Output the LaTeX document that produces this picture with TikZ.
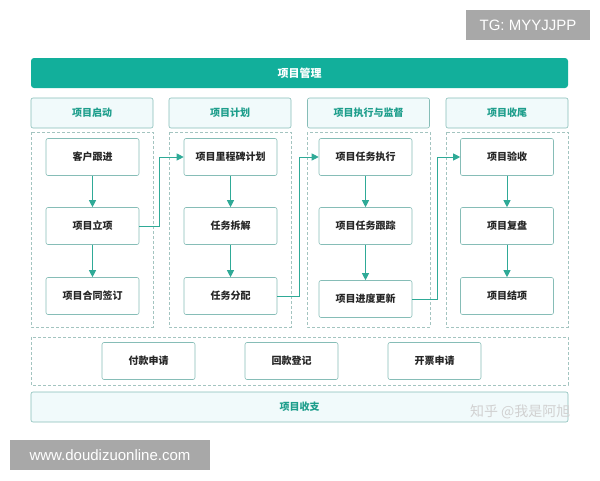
\documentclass[tikz,border=0pt]{standalone}
\usepackage{fontspec}
\setmainfont{Noto Sans CJK SC}
\newfontfamily\latinsans{Liberation Sans}
\usetikzlibrary{arrows.meta,positioning}
\definecolor{tealmain}{HTML}{12AF9B}
\definecolor{tealtext}{HTML}{1E9E8C}
\definecolor{tealline}{HTML}{86BDB7}
\definecolor{tealarrow}{HTML}{2FAA97}
\definecolor{headfill}{HTML}{F1FAFB}
\definecolor{dashline}{HTML}{A3C4C0}
\definecolor{markgray}{HTML}{A8A8A8}

\begin{document}
\begin{tikzpicture}[x=1pt,y=-1pt,
	phase/.style={draw=tealline, fill=headfill, rounded corners=2pt, line width=0.6pt,
		minimum width=122pt, minimum height=30pt, inner sep=0pt,
		font=\fontsize{10}{12}\selectfont\bfseries, text=tealtext},
	task/.style={draw=tealline, fill=white, rounded corners=2pt, line width=0.6pt,
		minimum width=93pt, minimum height=37pt, inner sep=0pt,
		font=\fontsize{10}{12}\selectfont\bfseries, text=black!85},
	group/.style={draw=dashline, dash pattern=on 3pt off 2pt, line width=0.6pt},
	arr/.style={draw=tealarrow, line width=0.8pt, -{Triangle[length=7pt,width=7pt]}},
	stamp/.style={fill=markgray, text=white, inner sep=0pt, font=\latinsans\fontsize{15}{17}\selectfont}]

	\useasboundingbox (0,0) rectangle (600,480);

	% top bar
	\node[fill=tealmain, rounded corners=3pt, minimum width=537pt, minimum height=30pt,
		text=white, font=\fontsize{11}{13}\selectfont\bfseries] (pm) at (299.5,73) {项目管理};

	% phases
	\node[phase] (h1) at (92,113) {项目启动};
	\node[phase] (h2) at (230,113) {项目计划};
	\node[phase] (h3) at (368.5,113) {项目执行与监督};
	\node[phase] (h4) at (507,113) {项目收尾};

	\draw[group] (31,132) rectangle (153,327);
	\draw[group] (169,132) rectangle (291,327);
	\draw[group] (307,132) rectangle (430,327);
	\draw[group] (446,132) rectangle (568,327);

	% column 1
	\node[task] (a1) at (92.5,157) {客户跟进};
	\node[task] (a2) at (92.5,226) {项目立项};
	\node[task] (a3) at (92.5,296) {项目合同签订};
	% column 2
	\node[task] (b1) at (230.5,157) {项目里程碑计划};
	\node[task] (b2) at (230.5,226) {任务拆解};
	\node[task] (b3) at (230.5,296) {任务分配};
	% column 3
	\node[task] (c1) at (365.5,157) {项目任务执行};
	\node[task] (c2) at (365.5,226) {项目任务跟踪};
	\node[task] (c3) at (365.5,299) {项目进度更新};
	% column 4
	\node[task] (d1) at (507,157) {项目验收};
	\node[task] (d2) at (507,226) {项目复盘};
	\node[task] (d3) at (507,296) {项目结项};

	\draw[arr] (a1) -- (a2);
	\draw[arr] (a2) -- (a3);
	\draw[arr] (b1) -- (b2);
	\draw[arr] (b2) -- (b3);
	\draw[arr] (c1) -- (c2);
	\draw[arr] (c2) -- (c3);
	\draw[arr] (d1) -- (d2);
	\draw[arr] (d2) -- (d3);

	\draw[arr] (a2.east) -- ++(20,0) |- (b1.west);
	\draw[arr] (b3.east) -- ++(22,0) |- (c1.west);
	\draw[arr] (c3.east) -- ++(25,0) |- (d1.west);

	% money flow
	\draw[group] (31,337) rectangle (568,385);
	\node[task] (p1) at (148.5,361) {付款申请};
	\node[task] (p2) at (291.5,361) {回款登记};
	\node[task] (p3) at (434.5,361) {开票申请};

	\node[phase, minimum width=537pt] (fin) at (299.5,407) {项目收支};

	% marks
	\node[text=black!18, font=\fontsize{14}{16}\selectfont, anchor=east] (zh) at (574,412) {知乎 @我是阿旭};
	\node[stamp, minimum width=124pt, minimum height=30pt] (tg) at (528,25) {TG: MYYJJPP};
	\node[stamp, minimum width=200pt, minimum height=30pt] (www) at (110,455) {www.doudizuonline.com};
\end{tikzpicture}
\end{document}
